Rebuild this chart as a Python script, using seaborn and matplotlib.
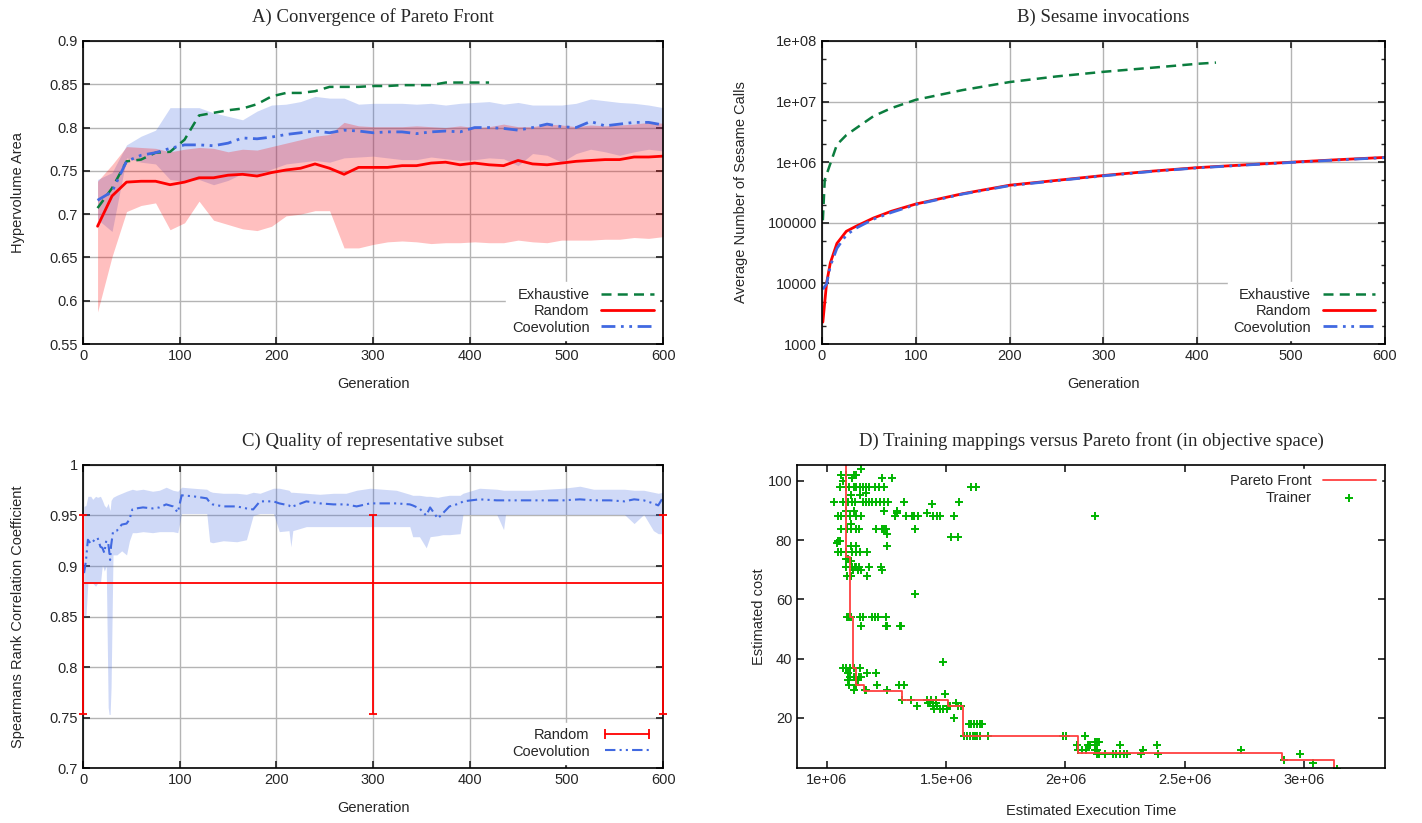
import numpy as np
import pandas as pd
import seaborn as sns
import matplotlib.pyplot as plt
from matplotlib.lines import Line2D
from matplotlib.ticker import FuncFormatter, LogLocator, MultipleLocator, NullFormatter

# ---------------- A) hypervolume per generation
gens_a = list(range(15, 601, 15))
exh_hv = [0.707, 0.730, 0.761, 0.763, 0.771, 0.772, 0.786, 0.814, 0.817, 0.820,
          0.822, 0.827, 0.836, 0.840, 0.840, 0.842, 0.847, 0.847, 0.847, 0.848,
          0.848, 0.849, 0.849, 0.849, 0.852, 0.852, 0.852, 0.852]
rnd_hv = [0.686, 0.721, 0.737, 0.738, 0.738, 0.734, 0.737, 0.742, 0.742, 0.745,
          0.746, 0.744, 0.748, 0.751, 0.753, 0.758, 0.753, 0.746, 0.754, 0.754,
          0.754, 0.756, 0.756, 0.759, 0.760, 0.757, 0.759, 0.757, 0.756, 0.762,
          0.758, 0.757, 0.759, 0.761, 0.762, 0.763, 0.763, 0.766, 0.766, 0.767]
rnd_hv_lo = [0.587, 0.651, 0.703, 0.710, 0.713, 0.682, 0.690, 0.715, 0.693, 0.688,
             0.683, 0.681, 0.686, 0.698, 0.700, 0.704, 0.704, 0.661, 0.661, 0.665,
             0.668, 0.669, 0.668, 0.666, 0.667, 0.667, 0.668, 0.667, 0.667, 0.670,
             0.668, 0.667, 0.670, 0.670, 0.670, 0.671, 0.671, 0.673, 0.672, 0.674]
rnd_hv_hi = [0.738, 0.757, 0.778, 0.777, 0.776, 0.772, 0.775, 0.777, 0.776, 0.772,
             0.775, 0.774, 0.778, 0.782, 0.786, 0.790, 0.792, 0.806, 0.802, 0.801,
             0.801, 0.801, 0.802, 0.801, 0.800, 0.802, 0.800, 0.801, 0.804, 0.801,
             0.801, 0.804, 0.803, 0.801, 0.803, 0.802, 0.803, 0.804, 0.806, 0.805]
coe_hv = [0.716, 0.726, 0.761, 0.768, 0.771, 0.776, 0.780, 0.780, 0.779, 0.782,
          0.788, 0.787, 0.789, 0.792, 0.794, 0.796, 0.794, 0.797, 0.796, 0.794,
          0.795, 0.795, 0.793, 0.795, 0.796, 0.795, 0.800, 0.800, 0.799, 0.797,
          0.800, 0.804, 0.801, 0.800, 0.807, 0.802, 0.804, 0.806, 0.806, 0.803]
coe_hv_lo = [0.694, 0.680, 0.765, 0.760, 0.758, 0.740, 0.738, 0.740, 0.734, 0.739,
             0.747, 0.746, 0.752, 0.758, 0.760, 0.762, 0.760, 0.765, 0.766, 0.767,
             0.765, 0.763, 0.763, 0.766, 0.764, 0.762, 0.763, 0.765, 0.764, 0.756,
             0.770, 0.768, 0.760, 0.770, 0.775, 0.772, 0.768, 0.772, 0.775, 0.773]
coe_hv_hi = [0.740, 0.748, 0.780, 0.790, 0.797, 0.823, 0.823, 0.823, 0.817, 0.813,
             0.809, 0.819, 0.826, 0.827, 0.830, 0.836, 0.834, 0.834, 0.827, 0.828,
             0.828, 0.828, 0.827, 0.828, 0.826, 0.828, 0.829, 0.830, 0.827, 0.829,
             0.826, 0.826, 0.826, 0.828, 0.833, 0.831, 0.829, 0.828, 0.826, 0.823]

# ---------------- B) sesame invocations
exh_gens_b = [1, 3, 9, 16, 26, 36, 55, 74, 100, 150, 200, 250, 300, 350, 400, 420]
exh_calls = [1.1e5, 5.1e5, 9.5e5, 1.95e6, 2.8e6, 3.6e6, 5.75e6, 7.8e6, 1.07e7,
             1.55e7, 2.1e7, 2.6e7, 3.1e7, 3.6e7, 4.2e7, 4.4e7]
gens_b = [1, 5, 9, 16, 26, 36, 55, 74, 100, 150, 200, 250, 300, 350, 400, 450, 500, 550, 600]
rnd_calls = [2300, 10200, 21900, 45700, 72400, 87100, 1.2e5, 1.55e5, 2.04e5, 3.02e5,
             4.17e5, 5.01e5, 6.03e5, 7.08e5, 8.13e5, 9.02e5, 1.0e6, 1.1e6, 1.2e6]
coe_calls = [8000, 9800, 19500, 38000, 63000, 81000, 1.15e5, 1.48e5, 2.0e5, 2.98e5,
             4.1e5, 4.95e5, 5.95e5, 7.0e5, 8.05e5, 8.95e5, 9.9e5, 1.09e6, 1.19e6]

# ---------------- C) spearman rank correlation
c_rnd_gen = [0, 300, 600]
c_rnd_mean = [0.883, 0.883, 0.883]
c_rnd_lo = [0.753, 0.753, 0.753]
c_rnd_hi = [0.950, 0.950, 0.950]
c_gen = [1, 3, 5, 8, 10, 13, 15, 18, 20, 22, 24, 26, 27, 28, 29, 31, 35, 40, 45, 48,
         51, 55, 62, 72, 79, 86, 93, 98, 102, 114, 128, 131, 134, 145, 159, 169, 176,
         183, 197, 203, 213, 215, 217, 231, 245, 259, 272, 283, 297, 310, 324, 338,
         341, 348, 355, 359, 367, 372, 379, 390, 393, 410, 428, 435, 437, 445, 462,
         479, 497, 514, 528, 545, 560, 570, 580, 590, 595, 600]
c_coe = [0.893, 0.905, 0.926, 0.922, 0.924, 0.927, 0.928, 0.919, 0.918, 0.913, 0.925,
         0.923, 0.915, 0.906, 0.920, 0.934, 0.935, 0.941, 0.942, 0.946, 0.956, 0.957,
         0.958, 0.957, 0.958, 0.961, 0.959, 0.953, 0.970, 0.969, 0.967, 0.963, 0.961,
         0.959, 0.959, 0.957, 0.956, 0.964, 0.964, 0.962, 0.960, 0.958, 0.959, 0.964,
         0.962, 0.961, 0.961, 0.959, 0.962, 0.962, 0.962, 0.961, 0.960, 0.957, 0.950,
         0.958, 0.947, 0.952, 0.959, 0.962, 0.964, 0.966, 0.965, 0.965, 0.965, 0.965,
         0.965, 0.965, 0.965, 0.966, 0.965, 0.965, 0.964, 0.966, 0.965, 0.962, 0.960,
         0.968]
c_coe_lo = [0.850, 0.850, 0.883, 0.883, 0.883, 0.880, 0.883, 0.883, 0.901, 0.895, 0.900,
            0.760, 0.753, 0.753, 0.780, 0.911, 0.911, 0.915, 0.911, 0.925, 0.933, 0.933,
            0.934, 0.933, 0.934, 0.934, 0.934, 0.933, 0.952, 0.952, 0.952, 0.924, 0.923,
            0.925, 0.924, 0.926, 0.950, 0.952, 0.952, 0.934, 0.935, 0.919, 0.935, 0.939,
            0.939, 0.939, 0.939, 0.939, 0.939, 0.939, 0.939, 0.939, 0.929, 0.929, 0.918,
            0.929, 0.930, 0.931, 0.931, 0.932, 0.951, 0.951, 0.951, 0.936, 0.951, 0.951,
            0.951, 0.951, 0.951, 0.951, 0.951, 0.951, 0.951, 0.942, 0.951, 0.935, 0.932,
            0.932]
c_coe_hi = [0.959, 0.960, 0.969, 0.969, 0.966, 0.969, 0.968, 0.969, 0.965, 0.960, 0.958,
            0.962, 0.958, 0.955, 0.965, 0.968, 0.970, 0.972, 0.974, 0.975, 0.976, 0.975,
            0.976, 0.974, 0.975, 0.978, 0.975, 0.974, 0.978, 0.977, 0.976, 0.974, 0.973,
            0.972, 0.972, 0.971, 0.973, 0.972, 0.977, 0.977, 0.975, 0.973, 0.973, 0.972,
            0.971, 0.972, 0.972, 0.975, 0.977, 0.976, 0.975, 0.971, 0.970, 0.970, 0.969,
            0.969, 0.968, 0.969, 0.970, 0.970, 0.972, 0.977, 0.976, 0.975, 0.975, 0.975,
            0.975, 0.976, 0.977, 0.979, 0.976, 0.976, 0.976, 0.975, 0.975, 0.973, 0.972,
            0.973]

# ---------------- D) training mappings vs pareto front (time in millions)
pareto_time_m = [1.082, 1.099, 1.110, 1.124, 1.156, 1.313, 1.508, 1.569, 2.051, 2.906, 3.126, 3.400]
pareto_cost = [110.0, 74.4, 54.2, 36.8, 31.1, 29.1, 26.1, 24.05, 13.9, 8.1, 5.8, 2.8]

trainer_time_m = [
    1.145,
    1.061, 1.080, 1.113, 1.121,
    1.105, 1.233, 1.273,
    1.068,
    1.056, 1.080, 1.092, 1.113, 1.124, 1.137, 1.153, 1.164, 1.177, 1.201, 1.220, 1.238, 1.603, 1.627,
    1.166,
    1.100, 1.137,
    1.032, 1.068, 1.088, 1.105, 1.117, 1.153, 1.164, 1.177, 1.188, 1.204, 1.222, 1.238, 1.257, 1.325, 1.555,
    1.442,
    1.080, 1.113, 1.238, 1.293,
    1.294, 1.418,
    1.045, 1.061, 1.080, 1.096, 1.121, 1.145, 1.286, 1.330, 1.359, 1.367, 1.383, 1.447, 1.463, 1.474, 1.531, 2.126,
    1.101,
    1.061, 1.085, 1.100, 1.124, 1.133, 1.204, 1.233, 1.241, 1.249, 1.370,
    1.252,
    1.519, 1.550,
    1.048, 1.056,
    1.043,
    1.101, 1.124, 1.254,
    1.048, 1.061, 1.080, 1.105, 1.124, 1.137, 1.169,
    1.080, 1.088,
    1.100,
    1.080, 1.105, 1.117, 1.124, 1.133, 1.177, 1.225,
    1.109, 1.129, 1.145, 1.230,
    1.085, 1.100, 1.169,
    1.370,
    1.084, 1.092, 1.101, 1.140, 1.153, 1.188, 1.201, 1.214, 1.249,
    1.145, 1.249, 1.254, 1.306, 1.310,
    1.486,
    1.068, 1.080, 1.096, 1.113, 1.137,
    1.088, 1.169, 1.204,
    1.096, 1.113, 1.124, 1.133, 1.145,
    1.088, 1.121, 1.132,
    1.093, 1.124, 1.212, 1.301, 1.325,
    1.113, 1.161, 1.166, 1.254,
    1.495,
    1.317, 1.354, 1.421, 1.437, 1.458,
    1.426, 1.434, 1.445, 1.458, 1.543,
    1.378, 1.445, 1.463, 1.506, 1.515, 1.550, 1.563,
    1.450, 1.474, 1.487, 1.503,
    1.535,
    1.595, 1.603, 1.616, 1.630, 1.643, 1.651,
    1.576, 1.587, 1.600, 1.611, 1.619, 1.630, 1.643, 1.675, 1.989, 2.002, 2.082,
    2.126, 2.134, 2.142,
    2.050, 2.093, 2.105, 2.230, 2.383,
    2.053, 2.069, 2.085, 2.126, 2.134, 2.327, 2.737,
    2.131, 2.142, 2.166, 2.198, 2.214, 2.230, 2.246, 2.259, 2.319, 2.388, 2.983,
    2.918,
    3.037,
    3.139,
]
trainer_cost = (
    [103.9] + [102.0] * 4 + [101.1] * 3 + [100.0] + [98.0] * 14 + [95.8] + [95.2] * 2
    + [92.9] * 15 + [92.1] + [89.9] * 4 + [89.1] * 2 + [88.0] * 16 + [85.4]
    + [83.9] * 10 + [82.0] + [80.9] * 2 + [79.8] * 2 + [79.2] + [77.9] * 3
    + [76.1] * 7 + [73.6] * 2 + [73.0] + [70.8] * 7 + [70.0] * 4 + [68.0] * 3
    + [61.8] + [53.9] * 9 + [50.9] * 5 + [38.8] + [36.9] * 5 + [35.2] * 3
    + [33.9] * 5 + [32.6] * 3 + [30.9] * 5 + [29.2] * 4 + [28.1] + [26.1] * 5
    + [24.9] * 5 + [23.8] * 7 + [23.0] * 4 + [19.9] + [18.0] * 6 + [13.8] * 11
    + [11.8] * 3 + [10.7] * 5 + [9.0] * 7 + [7.9] * 11 + [5.8] + [4.7] + [2.8]
)

# ---------------- style
sns.set_theme(style="ticks", rc={
    "xtick.direction": "in", "ytick.direction": "in",
    "xtick.top": True, "ytick.right": True,
    "xtick.major.size": 5, "ytick.major.size": 5,
    "xtick.minor.size": 3, "ytick.minor.size": 3,
    "axes.edgecolor": "black", "axes.linewidth": 1.2,
    "grid.color": "#b4b4b4", "grid.linewidth": 1.0,
})
plt.rcParams["font.family"] = ["Liberation Sans", "DejaVu Sans"]
plt.rcParams["font.size"] = 10.5
plt.rcParams["xtick.labelsize"] = 10.5
plt.rcParams["ytick.labelsize"] = 10.5
plt.rcParams["axes.labelsize"] = 10.5

GREEN = "#0b7d3e"
RED = "#ff0000"
BLUE = "#4169e1"
TRAIN = "#00b400"
title_font = dict(family=["Liberation Serif", "DejaVu Serif"], size=13.5)
fmt_g = FuncFormatter(lambda v, p: f"{v:g}")
dashdot = (0, (5, 2, 1, 2, 1, 2))


def legend(ax, handles=None, loc="lower right", **extra):
    kw = dict(loc=loc, markerfirst=False, frameon=True, fancybox=False,
              facecolor="white", edgecolor="white", framealpha=1,
              handlelength=3.6, labelspacing=0.15, borderaxespad=0.25,
              fontsize=10.5)
    kw.update(extra)
    if handles is not None:
        kw["handles"] = handles
    return ax.legend(**kw)


fig = plt.figure(figsize=(14.22, 8.23), dpi=100)
axA = fig.add_axes([0.0584, 0.582, 0.4079, 0.3682])
axB = fig.add_axes([0.578, 0.582, 0.3959, 0.3682])
axC = fig.add_axes([0.0584, 0.0668, 0.4079, 0.3682])
axD = fig.add_axes([0.5605, 0.0668, 0.4135, 0.3682])

# ---- A
axA.fill_between(gens_a, coe_hv_lo, coe_hv_hi, color=BLUE, alpha=0.25, lw=0)
axA.fill_between(gens_a, rnd_hv_lo, rnd_hv_hi, color=RED, alpha=0.25, lw=0)
sns.lineplot(x=gens_a[:len(exh_hv)], y=exh_hv, ax=axA, color=GREEN, lw=1.8,
             linestyle=(0, (4, 2.5)), label="Exhaustive")
sns.lineplot(x=gens_a, y=rnd_hv, ax=axA, color=RED, lw=2, label="Random")
sns.lineplot(x=gens_a, y=coe_hv, ax=axA, color=BLUE, lw=2, linestyle=dashdot,
             label="Coevolution")
axA.set_xlim(0, 600)
axA.set_ylim(0.55, 0.9)
axA.yaxis.set_major_locator(MultipleLocator(0.05))
axA.xaxis.set_major_locator(MultipleLocator(100))
axA.yaxis.set_major_formatter(fmt_g)
axA.grid(True)
axA.set_axisbelow(True)
axA.set_xlabel("Generation", labelpad=10)
axA.set_ylabel("Hypervolume Area", labelpad=18)
axA.set_title("A) Convergence of Pareto Front", pad=14, **title_font)
legend(axA)

# ---- B
sns.lineplot(x=exh_gens_b, y=exh_calls, ax=axB, color=GREEN, lw=1.8,
             linestyle=(0, (4, 2.5)), label="Exhaustive")
sns.lineplot(x=gens_b, y=rnd_calls, ax=axB, color=RED, lw=2, label="Random")
sns.lineplot(x=gens_b, y=coe_calls, ax=axB, color=BLUE, lw=2, linestyle=dashdot,
             label="Coevolution")
axB.set_yscale("log")
axB.set_xlim(0, 600)
axB.set_ylim(1e3, 1e8)
axB.xaxis.set_major_locator(MultipleLocator(100))
axB.yaxis.set_major_locator(LogLocator(base=10))
axB.yaxis.set_minor_locator(LogLocator(base=10, subs=(2.0, 5.0)))
axB.yaxis.set_minor_formatter(NullFormatter())
axB.yaxis.set_major_formatter(fmt_g)
axB.grid(True, which="major")
axB.set_axisbelow(True)
axB.set_xlabel("Generation", labelpad=10)
axB.set_ylabel("Average Number of Sesame Calls", labelpad=14)
axB.set_title("B) Sesame invocations", pad=14, **title_font)
legend(axB)

# ---- C
axC.fill_between(c_gen, c_coe_lo, c_coe_hi, color=BLUE, alpha=0.25, lw=0)
sns.lineplot(x=c_gen, y=c_coe, ax=axC, color=BLUE, lw=1.5, linestyle=dashdot,
             label="Coevolution")
err = [np.array(c_rnd_mean) - np.array(c_rnd_lo), np.array(c_rnd_hi) - np.array(c_rnd_mean)]
eb = axC.errorbar(c_rnd_gen, c_rnd_mean, yerr=err, color=RED, lw=1.3,
                  capsize=3, capthick=1.3, clip_on=False, zorder=4)
for art in eb.get_children():
    art.set_clip_on(False)
    art.set_zorder(4)
axC.set_xlim(0, 600)
axC.set_ylim(0.7, 1.0)
axC.yaxis.set_major_locator(MultipleLocator(0.05))
axC.xaxis.set_major_locator(MultipleLocator(100))
axC.yaxis.set_major_formatter(fmt_g)
axC.grid(True)
axC.set_axisbelow(True)
axC.set_xlabel("Generation", labelpad=10)
axC.set_ylabel("Spearmans Rank Correlation Coefficient", labelpad=18)
axC.set_title("C) Quality of representative subset", pad=14, **title_font)
rnd_handle = Line2D([], [], color=RED, lw=1.3, marker="|", markersize=7,
                    markeredgewidth=1.3, label="Random")
coe_handle = Line2D([], [], color=BLUE, lw=1.5, linestyle=dashdot, label="Coevolution")
legend(axC, handles=[rnd_handle, coe_handle], numpoints=2)

# ---- D
pareto_time = np.array(pareto_time_m) * 1e6
trainer_time = np.array(trainer_time_m) * 1e6
sns.lineplot(x=pareto_time, y=pareto_cost, ax=axD, color="#ff4040", lw=1.3,
             drawstyle="steps-pre", sort=False, label="Pareto Front")
sns.scatterplot(x=trainer_time, y=trainer_cost, ax=axD, marker="+", color=TRAIN,
                s=38, linewidth=1.4, label="Trainer")
axD.set_xlim(0.875e6, 3.34e6)
axD.set_ylim(3, 105.4)
axD.xaxis.set_major_locator(MultipleLocator(0.5e6))
axD.yaxis.set_major_locator(MultipleLocator(20))
axD.xaxis.set_major_formatter(fmt_g)
axD.yaxis.set_major_formatter(fmt_g)
axD.set_xlabel("Estimated Execution Time", labelpad=12)
axD.set_ylabel("Estimated cost", labelpad=1)
axD.set_title("D) Training mappings versus Pareto front (in objective space)", pad=14, **title_font)
legend(axD, loc="upper right")

fig.savefig("out.png", dpi=100)
